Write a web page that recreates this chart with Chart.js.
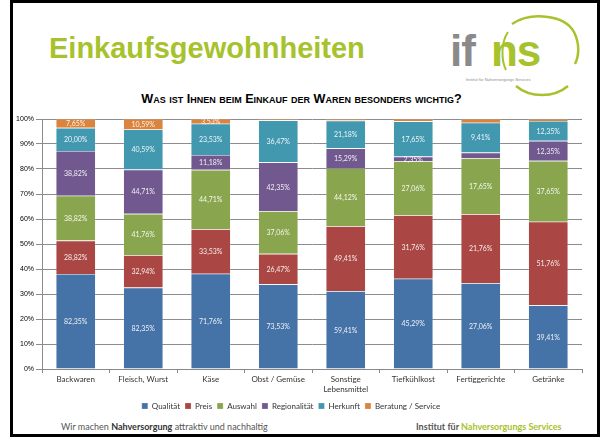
<!DOCTYPE html>
<html>
<head>
<meta charset="utf-8">
<script src="https://cdn.jsdelivr.net/npm/chart.js@4.4.1/dist/chart.umd.min.js"></script>
<style>
  html, body { margin: 0; padding: 0; background: #fff; }
  body { width: 603px; height: 445px; position: relative; overflow: hidden; font-family: "Liberation Sans", Arial, sans-serif; }
  #frame { position: absolute; left: 10px; top: 0; width: 584px; height: 431px; border: 3px solid #000; }
  #title { position: absolute; left: 49px; top: 32px; font: bold 29px "Liberation Sans", Arial, sans-serif; color: #a6c22c; }
  #logo { position: absolute; left: 448px; top: 10px; width: 140px; height: 95px; }
  #logo .txt { position: absolute; left: 2px; top: 16px; font: bold 44px "Liberation Sans", Arial, sans-serif; letter-spacing: -1px; }
  #logo .sub { position: absolute; left: 18px; top: 67px; font: 4px "Liberation Sans", Arial, sans-serif; color: #8a8a8a; white-space: nowrap; }
  #q { position: absolute; left: 0; width: 603px; top: 92px; text-align: center; font: bold 12.6px "Liberation Sans", Arial, sans-serif; font-variant: small-caps; color: #000; }
  #chartBox { position: absolute; left: 0; top: 108px; width: 603px; height: 312px; }
  #foot1 { position: absolute; left: 61px; top: 421px; font: 9px Lato, "Open Sans", sans-serif; color: #555; }
  #foot2 { position: absolute; left: 416px; top: 421px; font: bold 9px Lato, "Open Sans", sans-serif; color: #555; }
</style>
</head>
<body>
<div id="frame"></div>
<div id="title">Einkaufsgewohnheiten</div>
<div id="logo">
  <svg width="140" height="95" style="position:absolute;left:0;top:0">
    <path d="M 64 14 C 82 2, 116 4, 126 22 C 132 34, 131 46, 127 54" stroke="#a6c22c" stroke-width="2.5" fill="none"/>
    <path d="M 60 22 C 53 32, 53 50, 58 60" stroke="#a6c22c" stroke-width="2" fill="none"/>
    <path d="M 68 76 C 82 88, 106 88, 120 76" stroke="#a6c22c" stroke-width="2.5" fill="none"/>
  </svg>
  <div class="txt"><span style="color:#8a8a8a">if</span><span style="color:#a6c22c;margin-left:16px">ns</span></div>
  <div class="sub">Institut für Nahversorgungs Services</div>
</div>
<div id="q">Was ist Ihnen beim Einkauf der Waren besonders wichtig?</div>
<div id="chartBox"><canvas id="chart"></canvas></div>
<div id="foot1">Wir machen <b style="color:#333">Nahversorgung</b> attraktiv und nachhaltig</div>
<div id="foot2">Institut für <span style="color:#a6c22c">Nahversorgungs Services</span></div>
<script>
const categories = ['Backwaren', 'Fleisch, Wurst', 'Käse', 'Obst / Gemüse', ['Sonstige', 'Lebensmittel'], 'Tiefkühlkost', 'Fertiggerichte', 'Getränke'];
const qualitaet    = [82.35, 82.35, 71.76, 73.53, 59.41, 45.29, 27.06, 39.41];
const preis        = [28.82, 32.94, 33.53, 26.47, 49.41, 31.76, 21.76, 51.76];
const auswahl      = [38.82, 41.76, 44.71, 37.06, 44.12, 27.06, 17.65, 37.65];
const regionalitaet= [38.82, 44.71, 11.18, 42.35, 15.29, 2.35, 1.76, 12.35];
const herkunft     = [20.00, 40.59, 23.53, 36.47, 21.18, 17.65, 9.41, 12.35];
const beratung     = [7.65, 10.59, 3.53, 1.18, 1.18, 1.18, 1.18, 1.18];
const yTicks = [0, 10, 20, 30, 40, 50, 60, 70, 80, 90, 100];

const series = [
  { label: 'Qualität', raw: qualitaet, color: '#4572a7' },
  { label: 'Preis', raw: preis, color: '#aa4643' },
  { label: 'Auswahl', raw: auswahl, color: '#89a54e' },
  { label: 'Regionalität', raw: regionalitaet, color: '#71588f' },
  { label: 'Herkunft', raw: herkunft, color: '#4198af' },
  { label: 'Beratung / Service', raw: beratung, color: '#db843d' }
];

// totals per category, bars are drawn as share of the total (100% stacked)
const totals = categories.map((c, i) => series.reduce((s, d) => s + d.raw[i], 0));

const datasets = series.map(s => ({
  label: s.label,
  raw: s.raw,
  data: s.raw.map((v, i) => v / totals[i] * 100),
  backgroundColor: s.color,
  borderColor: 'rgba(255,255,255,0.35)',
  borderWidth: 0.6,
  barPercentage: 0.59,
  categoryPercentage: 1
}));

const fmt = v => v.toFixed(2).replace('.', ',') + '%';

// labels inside the segments, raw values
const segLabels = {
  id: 'segLabels',
  afterDatasetsDraw(chart) {
    const ctx = chart.ctx;
    ctx.save();
    ctx.font = '7px Lato, "Open Sans", sans-serif';
    ctx.fillStyle = 'rgba(255,255,255,0.9)';
    ctx.textAlign = 'center';
    ctx.textBaseline = 'middle';
    chart.data.datasets.forEach((ds, di) => {
      chart.getDatasetMeta(di).data.forEach((bar, i) => {
        const v = ds.raw[i];
        if (v < 2) return;
        const y = (bar.y + bar.base) / 2;
        ctx.fillText(fmt(v), bar.x, y + 0.5);
      });
    });
    ctx.restore();
  }
};

new Chart(document.getElementById('chart'), {
  type: 'bar',
  data: { labels: categories, datasets },
  options: {
    responsive: true,
    maintainAspectRatio: false,
    animation: false,
    layout: { padding: { top: 11, right: 21, bottom: 0, left: 0 } },
    plugins: {
      title: { display: false },
      tooltip: { enabled: false },
      legend: {
        position: 'bottom',
        labels: {
          boxWidth: 6, boxHeight: 6, padding: 5,
          color: '#333',
          font: { size: 8, family: 'Lato, "Open Sans", sans-serif' }
        }
      }
    },
    scales: {
      x: {
        stacked: true,
        grid: { drawOnChartArea: false, drawTicks: true, tickLength: 4, color: '#888', offset: true },
        border: { color: '#888' },
        ticks: { color: '#333', padding: 2, maxRotation: 0, autoSkip: false, font: { size: 8, family: 'Lato, "Open Sans", sans-serif' } },
        afterFit: s => { s.height = 28; }
      },
      y: {
        stacked: true,
        min: 0, max: 100,
        afterBuildTicks: s => { s.ticks = yTicks.map(v => ({ value: v })); },
        grid: { color: '#8c8c8c', tickLength: 6 },
        border: { color: '#8c8c8c' },
        ticks: { color: '#000', padding: 2, callback: v => v + '%', font: { size: 7, family: '"Liberation Sans", Arial, sans-serif' } },
        afterFit: s => { s.width = 42; }
      }
    }
  },
  plugins: [segLabels]
});
</script>
</body>
</html>
